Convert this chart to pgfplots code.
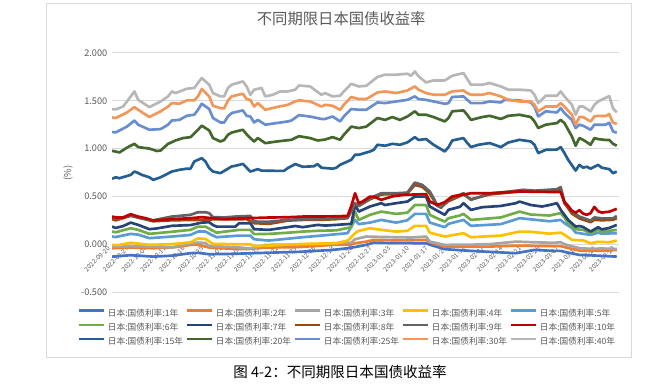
\documentclass[border=0pt]{standalone}
\usepackage{pgfplots}
\pgfplotsset{compat=1.18}
\usepackage{fontspec}
\setmainfont{Noto Sans CJK SC}
\definecolor{cA}{HTML}{4472C4}
\definecolor{cB}{HTML}{ED7D31}
\definecolor{cC}{HTML}{A5A5A5}
\definecolor{cD}{HTML}{FFC000}
\definecolor{cE}{HTML}{5B9BD5}
\definecolor{cF}{HTML}{70AD47}
\definecolor{cG}{HTML}{264478}
\definecolor{cH}{HTML}{9E480E}
\definecolor{cI}{HTML}{636363}
\definecolor{cJ}{HTML}{C00000}
\definecolor{cK}{HTML}{255E91}
\definecolor{cL}{HTML}{43682B}
\definecolor{cM}{HTML}{698ED0}
\definecolor{cN}{HTML}{F1975A}
\definecolor{cO}{HTML}{B7B7B7}
\definecolor{txt}{HTML}{595959}
\definecolor{grd}{HTML}{D9D9D9}
\newcommand{\lgd}[1]{\makebox[56pt][l]{日本:国债利率:#1年}}
\begin{document}
\begin{tikzpicture}
\path[use as bounding box] (0,0) rectangle (499.5pt,291.75pt);
\draw[color=grd, line width=0.75pt] (34.5pt,24pt) rectangle (473.25pt,288.75pt);
\begin{axis}[
  at={(84pt,72.75pt)}, anchor=south west, scale only axis,
  width=380.25pt, height=179.25pt,
  xmin=0, xmax=135.6, ymin=-0.5, ymax=2.0,
  enlargelimits=false,
  axis x line=middle, axis y line=left,
  axis line style={-},
  x axis line style={draw=grd, line width=0.75pt},
  y axis line style={draw=none},
  major tick length=0pt,
  hide obscured x ticks=false,
  ymajorgrids, grid style={grd, line width=0.75pt},
  ytick={-0.5,0,0.5,1,1.5,2},
  yticklabel={\pgfmathprintnumber[fixed,fixed zerofill,precision=3,assume math mode=true]{\tick}},
  yticklabel style={font=\fontsize{6.9}{8}\selectfont, text=txt},
  xtick={0,5,...,135},
  xticklabels={2022-09-20,2022-09-27,2022-10-04,2022-10-11,2022-10-18,2022-10-25,2022-11-01,2022-11-08,2022-11-15,2022-11-22,2022-11-29,2022-12-06,2022-12-13,2022-12-20,2022-12-27,2023-01-03,2023-01-10,2023-01-17,2023-01-24,2023-01-31,2023-02-07,2023-02-14,2023-02-21,2023-02-28,2023-03-07,2023-03-14,2023-03-21,2023-03-28},
  xticklabel style={rotate=45, anchor=east, font=\fontsize{4.8}{5}\selectfont, text=txt},
  title={不同期限日本国债收益率},
  title style={at={(axis description cs:0.452,1.109)}, anchor=center, font=\fontsize{11.5}{13}\selectfont, text=txt},
  ylabel={(\%)},
  ylabel style={at={(axis description cs:-0.087,0.498)}, anchor=center, font=\fontsize{6.9}{8}\selectfont, text=txt},
  every axis plot/.append style={line width=2pt, line join=round, no markers},
  legend columns=5,
  legend image code/.code={\draw[#1] (0pt,2.2pt) -- (18.75pt,2.2pt);},
  legend style={at={(axis description cs:-0.0684,-0.0726)}, anchor=north west, draw=none, fill=none,
    font=\fontsize{6.5}{7}\selectfont, text=txt, inner sep=0pt, outer sep=0pt, row sep=4.1pt,
    nodes={inner sep=0pt, text height=5pt, text depth=1.5pt},
    /tikz/every odd column/.append style={column sep=2.25pt},
    /tikz/every even column/.append style={column sep=2pt}},
]
\addplot[cA] coordinates {(0,-0.13) (5,-0.115) (11,-0.13) (16,-0.12) (21,-0.094) (23,-0.09) (26,-0.105) (33,-0.10) (41,-0.09) (50,-0.08) (59,-0.06) (63,-0.042) (65,-0.03) (68,-0.007) (70,0.017) (75,0.012) (84,0.01) (85,-0.005) (89,-0.052) (96,-0.07) (108,-0.094) (113,-0.06) (118,-0.07) (120,-0.07) (121,-0.08) (125,-0.112) (130,-0.12) (135,-0.13)};
\addlegendentry{\lgd{1}}
\addplot[cB] coordinates {(0,-0.042) (5,-0.035) (11,-0.042) (16,-0.035) (21,-0.007) (23,-0.005) (26,-0.035) (33,-0.05) (36,-0.052) (41,-0.035) (50,-0.03) (59,-0.007) (64,-0.003) (65,0.01) (68,0.027) (70,0.045) (78,0.04) (84,0.045) (85,0.02) (89,-0.025) (101,-0.025) (108,-0.015) (118,-0.02) (120,-0.02) (121,-0.03) (125,-0.067) (128,-0.07) (131,-0.07) (135,-0.06)};
\addlegendentry{\lgd{2}}
\addplot[cC] coordinates {(0,-0.025) (5,-0.02) (11,-0.025) (16,-0.035) (21,0.01) (23,0.017) (25,0.012) (26,-0.02) (33,-0.03) (36,-0.042) (38,-0.042) (41,-0.007) (48,-0.005) (55,0.0) (59,0.01) (64,0.017) (65,0.052) (68,0.08) (73,0.075) (80,0.07) (84,0.08) (85,0.027) (89,-0.007) (96,-0.005) (101,0.0) (108,0.027) (113,0.02) (118,0.015) (120,0.02) (121,0.0) (125,-0.042) (128,-0.048) (131,-0.045) (135,-0.05)};
\addlegendentry{\lgd{3}}
\addplot[cD] coordinates {(0,-0.007) (2,-0.007) (5,0.015) (10,-0.007) (16,0.0) (21,0.02) (23,0.06) (25,0.055) (27,0.003) (33,0.0) (37,0.0) (38,-0.02) (42,-0.015) (51,0.003) (60,0.01) (63,0.038) (65,0.115) (66,0.14) (69,0.167) (72,0.15) (76,0.132) (79,0.14) (81,0.192) (84,0.192) (85,0.12) (89,0.08) (90,0.087) (94,0.115) (96,0.073) (104,0.09) (109,0.132) (112,0.13) (117,0.11) (120,0.121) (121,0.10) (123,0.045) (126,0.04) (128,0.01) (130,0.025) (133,0.02) (135,0.038)};
\addlegendentry{\lgd{4}}
\addplot[cE] coordinates {(0,0.08) (1,0.075) (5,0.108) (7,0.10) (10,0.063) (16,0.08) (21,0.097) (23,0.132) (25,0.132) (27,0.09) (28,0.073) (34,0.09) (37,0.09) (38,0.052) (42,0.038) (51,0.073) (56,0.09) (63,0.115) (65,0.254) (66,0.21) (69,0.226) (72,0.254) (76,0.226) (79,0.25) (81,0.317) (84,0.317) (85,0.226) (89,0.178) (90,0.213) (94,0.254) (96,0.192) (104,0.21) (109,0.272) (117,0.24) (120,0.254) (121,0.22) (123,0.17) (124,0.121) (128,0.097) (130,0.12) (131,0.11) (135,0.115)};
\addlegendentry{\lgd{5}}
\addplot[cF] coordinates {(0,0.132) (1,0.125) (5,0.167) (7,0.15) (10,0.108) (16,0.13) (21,0.15) (23,0.184) (25,0.184) (27,0.14) (28,0.121) (34,0.15) (37,0.15) (38,0.105) (42,0.108) (47,0.12) (51,0.132) (55,0.14) (60,0.145) (64,0.178) (65,0.341) (66,0.254) (69,0.307) (72,0.341) (76,0.317) (79,0.33) (81,0.41) (84,0.41) (85,0.307) (87,0.27) (89,0.237) (90,0.272) (93,0.30) (94,0.317) (96,0.254) (101,0.27) (104,0.28) (109,0.341) (112,0.31) (117,0.30) (120,0.325) (121,0.28) (122,0.22) (124,0.157) (126,0.15) (128,0.115) (130,0.15) (131,0.13) (133,0.14) (135,0.15)};
\addlegendentry{\lgd{6}}
\addplot[cG] coordinates {(0,0.184) (1,0.17) (3,0.19) (5,0.226) (7,0.202) (10,0.157) (12,0.165) (16,0.192) (21,0.20) (24,0.226) (26,0.23) (27,0.20) (28,0.184) (33,0.184) (34,0.22) (37,0.22) (38,0.157) (42,0.15) (47,0.178) (49,0.19) (51,0.178) (55,0.202) (57,0.195) (60,0.202) (64,0.213) (65,0.41) (66,0.341) (69,0.394) (72,0.429) (73,0.41) (76,0.429) (79,0.446) (81,0.498) (84,0.498) (85,0.394) (87,0.35) (89,0.307) (90,0.36) (93,0.39) (94,0.429) (96,0.359) (99,0.387) (104,0.40) (108,0.429) (109,0.446) (112,0.41) (115,0.394) (117,0.41) (119,0.429) (120,0.36) (122,0.254) (124,0.184) (125,0.19) (126,0.18) (128,0.132) (130,0.178) (131,0.155) (133,0.17) (135,0.202)};
\addlegendentry{\lgd{7}}
\addplot[cH] coordinates {(0,0.262) (1,0.25) (5,0.296) (9,0.26) (11,0.24) (16,0.25) (25,0.255) (27,0.26) (36,0.262) (38,0.22) (42,0.213) (47,0.247) (51,0.254) (56,0.255) (60,0.262) (63,0.272) (65,0.42) (66,0.40) (69,0.47) (72,0.52) (76,0.525) (79,0.53) (81,0.62) (83,0.60) (85,0.53) (87,0.40) (88,0.39) (90,0.45) (94,0.52) (96,0.47) (98,0.49) (101,0.52) (106,0.54) (110,0.555) (113,0.55) (119,0.56) (120,0.575) (121,0.43) (123,0.32) (125,0.27) (128,0.23) (129,0.255) (131,0.25) (134,0.255) (135,0.272)};
\addlegendentry{\lgd{8}}
\addplot[cI] coordinates {(0,0.29) (2,0.27) (5,0.30) (9,0.26) (11,0.25) (16,0.289) (21,0.307) (23,0.335) (25,0.335) (26,0.325) (27,0.283) (30,0.28) (33,0.289) (37,0.296) (38,0.237) (42,0.235) (47,0.255) (51,0.26) (56,0.265) (60,0.27) (63,0.28) (65,0.43) (66,0.40) (69,0.48) (72,0.533) (76,0.533) (79,0.54) (81,0.645) (83,0.62) (85,0.551) (87,0.41) (88,0.38) (90,0.464) (94,0.533) (96,0.464) (98,0.49) (101,0.53) (106,0.55) (110,0.569) (113,0.56) (119,0.575) (120,0.597) (121,0.446) (123,0.341) (125,0.289) (128,0.247) (129,0.28) (131,0.27) (134,0.27) (135,0.296)};
\addlegendentry{\lgd{9}}
\addplot[cJ] coordinates {(0,0.283) (1,0.28) (3,0.28) (5,0.314) (7,0.289) (9,0.272) (11,0.247) (13,0.254) (16,0.262) (21,0.272) (24,0.283) (26,0.275) (30,0.262) (36,0.272) (42,0.279) (47,0.282) (51,0.289) (56,0.29) (60,0.292) (63,0.296) (64,0.40) (65,0.533) (66,0.43) (67,0.446) (69,0.498) (70,0.498) (72,0.464) (75,0.50) (78,0.516) (84,0.524) (85,0.446) (87,0.41) (89,0.44) (90,0.47) (91,0.50) (96,0.533) (101,0.533) (109,0.551) (114,0.548) (120,0.545) (121,0.44) (122,0.40) (123,0.35) (124,0.33) (125,0.355) (126,0.32) (127,0.307) (128,0.325) (129,0.39) (130,0.345) (131,0.331) (133,0.34) (135,0.37)};
\addlegendentry{\lgd{10}}
\addplot[cK] coordinates {(0,0.684) (1,0.70) (2,0.69) (5,0.725) (6,0.76) (7,0.745) (8,0.725) (10,0.70) (11,0.673) (13,0.70) (16,0.76) (18,0.778) (20,0.79) (21,0.79) (22,0.865) (24,0.90) (25,0.865) (26,0.796) (27,0.76) (29,0.743) (32,0.813) (33,0.82) (35,0.84) (36,0.80) (37,0.76) (39,0.785) (40,0.77) (44,0.767) (46,0.767) (47,0.796) (49,0.838) (51,0.81) (54,0.815) (55,0.838) (56,0.80) (59,0.79) (60,0.80) (61,0.83) (64,0.883) (65,0.935) (66,0.935) (69,0.97) (70,0.987) (71,1.04) (73,1.03) (75,1.05) (77,1.04) (79,1.065) (81,1.12) (82,1.09) (84,1.10) (86,1.04) (89,0.97) (90,1.015) (91,1.085) (94,1.11) (95,1.06) (96,1.016) (98,1.04) (101,1.058) (104,1.016) (106,1.064) (109,1.092) (112,1.075) (113,1.04) (114,0.953) (116,0.987) (119,0.99) (120,1.016) (121,0.953) (122,0.883) (124,0.77) (125,0.83) (126,0.80) (127,0.81) (128,0.79) (130,0.83) (131,0.80) (133,0.785) (134,0.743) (135,0.76)};
\addlegendentry{\lgd{15}}
\addplot[cL] coordinates {(0,0.977) (2,0.96) (4,1.01) (6,1.05) (7,1.016) (10,1.0) (12,0.975) (13,0.98) (15,1.05) (17,1.085) (19,1.11) (21,1.12) (23,1.197) (24,1.24) (26,1.19) (27,1.11) (29,1.074) (30,1.09) (31,1.144) (32,1.168) (35,1.197) (36,1.15) (37,1.11) (38,1.074) (39,1.11) (41,1.057) (44,1.074) (48,1.092) (50,1.13) (53,1.11) (55,1.085) (57,1.095) (59,1.12) (61,1.092) (62,1.144) (64,1.23) (66,1.215) (68,1.23) (71,1.32) (73,1.30) (75,1.33) (77,1.30) (79,1.336) (81,1.39) (82,1.354) (84,1.354) (86,1.33) (89,1.284) (90,1.32) (91,1.39) (94,1.40) (95,1.354) (96,1.30) (99,1.33) (101,1.343) (104,1.31) (106,1.343) (109,1.354) (112,1.33) (113,1.284) (114,1.215) (116,1.25) (119,1.267) (120,1.30) (121,1.267) (122,1.197) (123,1.127) (124,1.03) (125,1.11) (126,1.092) (128,1.04) (129,1.11) (130,1.10) (132,1.09) (133,1.09) (134,1.05) (135,1.03)};
\addlegendentry{\lgd{20}}
\addplot[cM] coordinates {(0,1.173) (1,1.17) (4,1.23) (6,1.294) (7,1.25) (10,1.197) (13,1.204) (15,1.25) (16,1.294) (18,1.30) (20,1.343) (22,1.354) (23,1.406) (24,1.469) (26,1.414) (27,1.32) (29,1.273) (30,1.273) (31,1.336) (32,1.372) (35,1.40) (36,1.343) (37,1.336) (38,1.273) (39,1.30) (41,1.25) (44,1.267) (47,1.284) (48,1.294) (50,1.35) (53,1.335) (56,1.31) (57,1.31) (59,1.336) (61,1.284) (62,1.336) (64,1.414) (66,1.406) (68,1.406) (71,1.483) (73,1.476) (76,1.493) (79,1.51) (81,1.546) (82,1.518) (84,1.51) (86,1.493) (89,1.469) (90,1.476) (91,1.54) (94,1.546) (95,1.51) (96,1.476) (99,1.476) (101,1.493) (104,1.483) (105,1.51) (109,1.504) (112,1.483) (113,1.44) (114,1.336) (116,1.39) (119,1.378) (120,1.424) (121,1.372) (123,1.30) (124,1.215) (125,1.25) (126,1.239) (128,1.197) (129,1.25) (130,1.25) (132,1.25) (133,1.27) (134,1.18) (135,1.165)};
\addlegendentry{\lgd{25}}
\addplot[cN] coordinates {(0,1.326) (1,1.32) (4,1.378) (6,1.434) (7,1.406) (10,1.33) (13,1.389) (15,1.44) (16,1.476) (18,1.469) (20,1.504) (22,1.504) (23,1.546) (24,1.623) (26,1.546) (27,1.448) (29,1.424) (30,1.42) (31,1.504) (32,1.546) (35,1.574) (36,1.518) (37,1.51) (38,1.44) (39,1.476) (41,1.406) (44,1.434) (47,1.458) (49,1.493) (50,1.505) (53,1.493) (56,1.44) (57,1.458) (59,1.448) (61,1.406) (62,1.458) (64,1.54) (66,1.518) (68,1.518) (71,1.587) (73,1.598) (76,1.581) (79,1.608) (81,1.65) (82,1.616) (84,1.581) (86,1.563) (89,1.563) (90,1.581) (91,1.598) (94,1.608) (95,1.581) (96,1.563) (99,1.563) (101,1.581) (104,1.546) (106,1.51) (109,1.493) (112,1.493) (113,1.458) (114,1.39) (116,1.44) (119,1.44) (120,1.476) (121,1.44) (123,1.354) (124,1.25) (125,1.33) (126,1.33) (128,1.284) (129,1.336) (130,1.343) (132,1.34) (133,1.36) (134,1.27) (135,1.26)};
\addlegendentry{\lgd{30}}
\addplot[cO] coordinates {(0,1.413) (1,1.41) (3,1.44) (4,1.493) (6,1.598) (7,1.51) (10,1.434) (13,1.493) (15,1.546) (16,1.598) (17,1.581) (20,1.626) (22,1.634) (23,1.686) (24,1.738) (26,1.668) (27,1.581) (29,1.546) (30,1.546) (31,1.634) (32,1.668) (35,1.703) (36,1.65) (37,1.563) (38,1.616) (40,1.634) (41,1.546) (43,1.563) (45,1.598) (47,1.598) (49,1.616) (50,1.66) (53,1.65) (56,1.563) (57,1.58) (59,1.546) (61,1.553) (62,1.598) (64,1.678) (66,1.65) (68,1.657) (71,1.749) (73,1.773) (76,1.773) (79,1.783) (80,1.762) (81,1.807) (82,1.755) (84,1.692) (86,1.713) (89,1.713) (91,1.762) (94,1.79) (96,1.668) (99,1.668) (101,1.686) (104,1.65) (106,1.616) (109,1.616) (112,1.608) (113,1.563) (114,1.476) (116,1.553) (119,1.553) (120,1.598) (121,1.546) (123,1.458) (124,1.354) (125,1.44) (126,1.44) (128,1.39) (129,1.458) (130,1.493) (132,1.53) (133,1.55) (134,1.42) (135,1.38)};
\addlegendentry{\lgd{40}}
\end{axis}
\node[font=\fontsize{10.9}{12}\selectfont, text=black] at (255pt,12.75pt) {图 4-2：不同期限日本国债收益率};
\end{tikzpicture}
\end{document}
